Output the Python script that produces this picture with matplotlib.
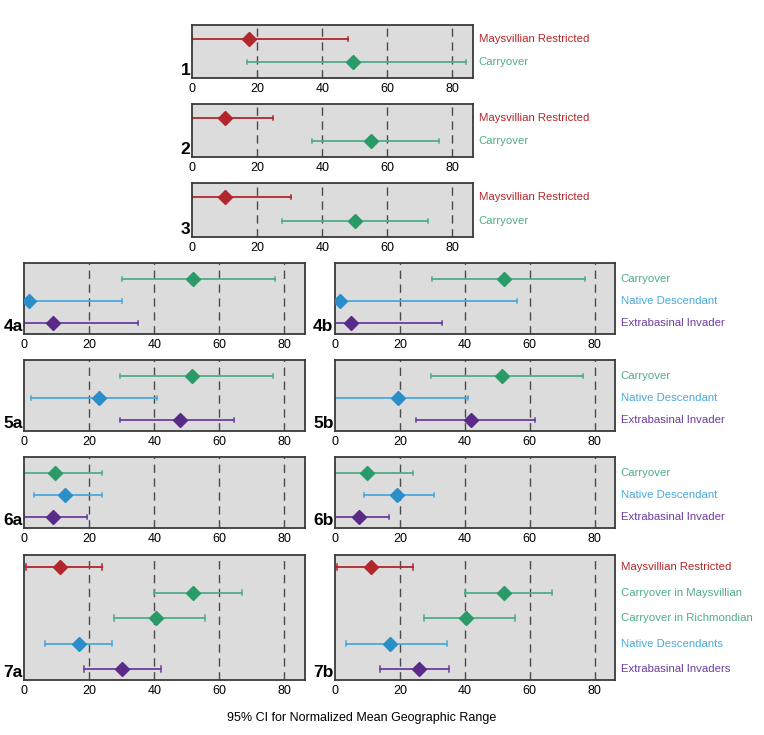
import matplotlib.pyplot as plt
import matplotlib.transforms as mtransforms

RED = "#b3262c"
GREEN = "#2a9a68"
GREEN_L = "#4fae86"
BLUE = "#2a8ec9"
BLUE_L = "#4aa9dd"
PURPLE = "#5a2a88"
PURPLE_L = "#6c3d9e"

# labels
two_labels = ["Maysvillian Restricted", "Carryover"]
three_labels = ["Carryover", "Native Descendant", "Extrabasinal Invader"]
seven_labels = ["Maysvillian Restricted", "Carryover in Maysvillian",
                "Carryover in Richmondian", "Native Descendants", "Extrabasinal Invaders"]

# mean, low, high (top row first)
p1_mean = [17.5, 49.5]
p1_low = [0, 17]
p1_high = [48, 84]
p2_mean = [10, 55]
p2_low = [0, 37]
p2_high = [25, 76]
p3_mean = [10, 50]
p3_low = [0, 27.5]
p3_high = [30.5, 72.5]

p4a_mean = [52, 1.5, 9]
p4a_low = [30, 0, 0]
p4a_high = [77, 30, 35]
p4b_mean = [52, 1.5, 5]
p4b_low = [30, 0, 0]
p4b_high = [77, 56, 33]

p5a_mean = [51.5, 23, 48]
p5a_low = [29.5, 2, 29.5]
p5a_high = [76.5, 41, 64.5]
p5b_mean = [51.5, 19.5, 42]
p5b_low = [29.5, 0, 25]
p5b_high = [76.5, 41, 61.5]

p6a_mean = [9.5, 12.5, 9]
p6a_low = [0, 3, 0]
p6a_high = [24, 24, 19.5]
p6b_mean = [10, 19, 7.5]
p6b_low = [0, 9, 0]
p6b_high = [24, 30.5, 16.5]

p7a_mean = [11, 52, 40.5, 17, 30]
p7a_low = [0.5, 40, 27.5, 6.5, 18.5]
p7a_high = [24, 67, 55.5, 27, 42]
p7b_mean = [11, 52, 40.5, 17, 26]
p7b_low = [0.5, 40, 27.5, 3.5, 14]
p7b_high = [24, 67, 55.5, 34.5, 35]

two_colors = [(RED, RED), (GREEN, GREEN_L)]
three_colors = [(GREEN, GREEN_L), (BLUE, BLUE_L), (PURPLE, PURPLE_L)]
seven_colors = [(RED, RED), (GREEN, GREEN_L), (GREEN, GREEN_L), (BLUE, BLUE_L), (PURPLE, PURPLE_L)]

fig = plt.figure(figsize=(7.64, 7.35), dpi=100)
W, H = 764, 735


def panel(px, py, pw, ph, tag, means, lows, highs, colors, ylims, labels=None):
    ax = fig.add_axes([px / W, 1 - (py + ph) / H, pw / W, ph / H])
    ax.set_facecolor("#dcdcdd")
    n = len(means)
    ys = list(range(n - 1, -1, -1))
    for x in [20, 40, 60, 80]:
        ax.axvline(x, color="#4a4a4a", lw=1.0, ls=(0, (6, 4)), zorder=1)
    cap = 0.09 * ylims[2]
    for i in range(n):
        mc, lc = colors[i]
        ax.plot([lows[i], highs[i]], [ys[i], ys[i]], color=lc, lw=1.3, zorder=2)
        ax.plot([lows[i], lows[i]], [ys[i] - cap, ys[i] + cap], color=lc, lw=1.1, zorder=2)
        ax.plot([highs[i], highs[i]], [ys[i] - cap, ys[i] + cap], color=lc, lw=1.1, zorder=2)
        ax.plot(means[i], ys[i], marker="D", ms=7.5, color=mc, mec=mc, zorder=3)
        if labels:
            trans = mtransforms.blended_transform_factory(ax.transAxes, ax.transData)
            ax.text(1.02, ys[i], labels[i], transform=trans, color=lc if mc != RED else RED,
                    fontsize=8.2, va="center", ha="left", family="Liberation Sans")
    ax.set_xlim(0, 86.3)
    ax.set_ylim(ylims[0], ylims[1])
    ax.set_yticks([])
    ax.set_xticks([0, 20, 40, 60, 80])
    ax.tick_params(axis="x", length=0, pad=3.5, labelsize=9)
    for lab in ax.get_xticklabels():
        lab.set_family("Liberation Sans")
    for sp in ax.spines.values():
        sp.set_color("#3a3a3a")
        sp.set_linewidth(1.3)
    ax.text(-0.005, 0.0, tag, transform=ax.transAxes, ha="right", va="bottom",
            fontsize=12.5, fontweight="bold", family="Liberation Sans")
    return ax


y2 = (-0.69, 1.6, 1.0)
y3 = (-0.5, 2.73, 1.0)
y7 = (-0.43, 4.47, 1.2)

panel(192, 25, 281, 53, "1", p1_mean, p1_low, p1_high, two_colors, y2, two_labels)
panel(192, 104, 281, 53, "2", p2_mean, p2_low, p2_high, two_colors, y2, two_labels)
panel(192, 183, 281, 54, "3", p3_mean, p3_low, p3_high, two_colors, y2, two_labels)

panel(24, 263, 281, 71, "4a", p4a_mean, p4a_low, p4a_high, three_colors, y3)
panel(335, 263, 280, 71, "4b", p4b_mean, p4b_low, p4b_high, three_colors, y3, three_labels)
panel(24, 360, 281, 71, "5a", p5a_mean, p5a_low, p5a_high, three_colors, y3)
panel(335, 360, 280, 71, "5b", p5b_mean, p5b_low, p5b_high, three_colors, y3, three_labels)
panel(24, 457, 281, 71, "6a", p6a_mean, p6a_low, p6a_high, three_colors, y3)
panel(335, 457, 280, 71, "6b", p6b_mean, p6b_low, p6b_high, three_colors, y3, three_labels)
panel(24, 555, 281, 125, "7a", p7a_mean, p7a_low, p7a_high, seven_colors, y7)
panel(335, 555, 280, 125, "7b", p7b_mean, p7b_low, p7b_high, seven_colors, y7, seven_labels)

fig.text(362 / W, 1 - 718 / H, "95% CI for Normalized Mean Geographic Range",
         ha="center", va="center", fontsize=9, family="Liberation Sans")

fig.savefig("out.png", dpi=100, facecolor="white")
